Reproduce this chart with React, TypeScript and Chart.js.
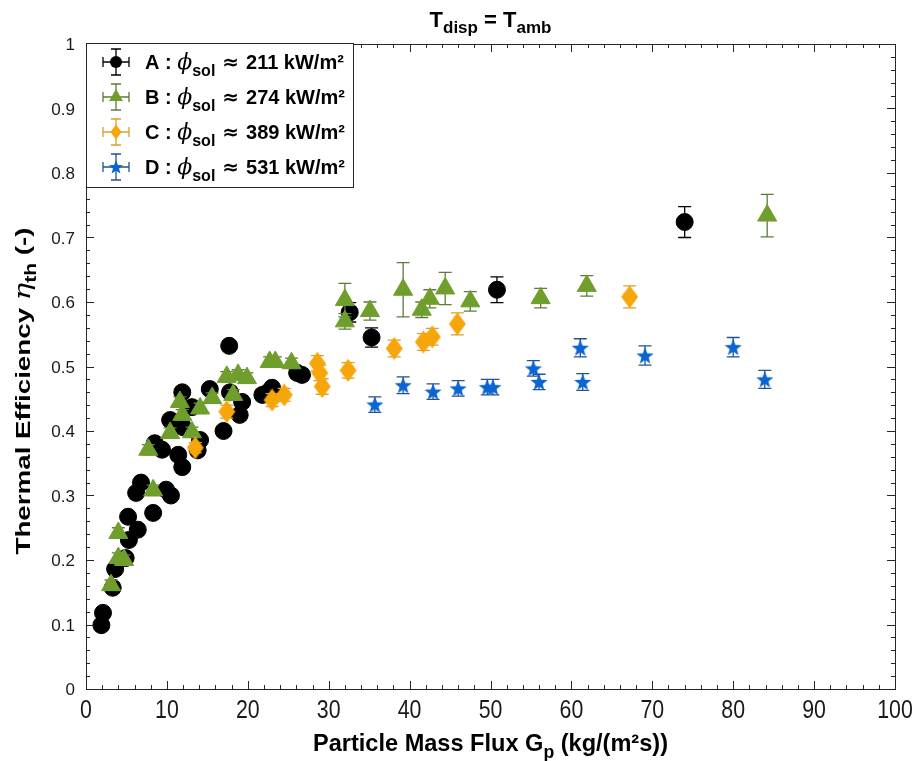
import React, { useEffect, useRef } from "react";
import { Chart, registerables } from "chart.js";

Chart.register(...registerables);

// Axis ticks
const xTickValues = [0, 10, 20, 30, 40, 50, 60, 70, 80, 90, 100];
const yTickValues = [0, 0.1, 0.2, 0.3, 0.4, 0.5, 0.6, 0.7, 0.8, 0.9, 1];
const yTickLabels = ["0", "0.1", "0.2", "0.3", "0.4", "0.5", "0.6", "0.7", "0.8", "0.9", "1"];

// Run A: phi_sol ≈ 211 kW/m²
const aFlux = [1.9, 2.1, 3.3, 3.6, 4.9, 5.3, 6.4, 5.2, 8.3, 6.2, 6.8, 9.9, 10.5, 8.5, 9.4, 11.4, 11.9, 10.4, 12.0, 11.9, 13.1, 14.1, 13.8, 15.3, 17.0, 17.7, 17.8, 19.3, 19.0, 21.8, 22.5, 23.0, 26.1, 26.7, 32.6, 35.3, 50.8, 74.0];
const aEff = [0.099, 0.118, 0.157, 0.186, 0.203, 0.231, 0.247, 0.267, 0.273, 0.304, 0.32, 0.309, 0.3, 0.381, 0.371, 0.363, 0.344, 0.417, 0.406, 0.46, 0.437, 0.386, 0.37, 0.465, 0.4, 0.532, 0.46, 0.445, 0.425, 0.456, 0.46, 0.467, 0.49, 0.487, 0.584, 0.545, 0.619, 0.724];
const aErr = [0.008, 0.008, 0.008, 0.008, 0.008, 0.008, 0.008, 0.008, 0.008, 0.008, 0.008, 0.008, 0.008, 0.008, 0.008, 0.008, 0.008, 0.008, 0.008, 0.008, 0.008, 0.008, 0.008, 0.008, 0.008, 0.008, 0.008, 0.008, 0.008, 0.008, 0.008, 0.008, 0.008, 0.008, 0.015, 0.015, 0.02, 0.024];

// Run B: phi_sol ≈ 274 kW/m²
const bFlux = [3.1, 4.0, 4.7, 4.0, 7.7, 8.3, 10.4, 11.6, 11.9, 13.1, 14.1, 15.6, 17.4, 18.2, 18.8, 19.9, 22.7, 23.4, 25.4, 32.0, 32.0, 35.1, 39.2, 41.5, 42.5, 44.4, 47.5, 56.2, 61.9, 84.2];
const bEff = [0.161, 0.203, 0.2, 0.242, 0.371, 0.308, 0.397, 0.445, 0.425, 0.398, 0.435, 0.451, 0.484, 0.456, 0.487, 0.482, 0.507, 0.507, 0.505, 0.603, 0.57, 0.586, 0.619, 0.588, 0.605, 0.621, 0.601, 0.606, 0.625, 0.734];
const bErr = [0.008, 0.008, 0.008, 0.008, 0.008, 0.008, 0.008, 0.008, 0.008, 0.008, 0.008, 0.008, 0.008, 0.008, 0.008, 0.008, 0.008, 0.008, 0.008, 0.026, 0.012, 0.014, 0.042, 0.012, 0.014, 0.025, 0.015, 0.015, 0.016, 0.033];

// Run C: phi_sol ≈ 389 kW/m²
const cFlux = [13.5, 17.4, 23.0, 24.5, 28.6, 28.9, 29.2, 32.4, 38.1, 41.7, 42.8, 45.9, 67.2];
const cEff = [0.374, 0.43, 0.448, 0.456, 0.505, 0.49, 0.469, 0.494, 0.528, 0.538, 0.546, 0.566, 0.608];
const cErr = [0.008, 0.01, 0.01, 0.01, 0.012, 0.012, 0.012, 0.012, 0.013, 0.013, 0.013, 0.017, 0.017];

// Run D: phi_sol ≈ 531 kW/m²
const dFlux = [35.7, 39.2, 42.9, 46.0, 49.6, 50.3, 55.3, 56.0, 61.1, 61.4, 69.1, 80.0, 83.9];
const dEff = [0.441, 0.471, 0.461, 0.466, 0.468, 0.468, 0.497, 0.476, 0.529, 0.476, 0.517, 0.53, 0.48];
const dErr = [0.012, 0.013, 0.012, 0.012, 0.012, 0.012, 0.012, 0.012, 0.014, 0.013, 0.015, 0.015, 0.014];

const runLetters = ["A", "B", "C", "D"];
const runPowers = ["211", "274", "389", "531"];

const SANS = "'Liberation Sans', Arial, sans-serif";
const SERIF = "'DejaVu Serif', 'Liberation Serif', serif";
const AXIS = "#262626";

const COLORS = ["#000000", "#6f9e2c", "#f6a60a", "#0a64d2"];
const BAR_COLORS = ["#000000", "#5f7a3c", "#d9a02a", "#24518f"];

type Part = { text: string; font: string; dy?: number };

function starPath(ctx: CanvasRenderingContext2D, cx: number, cy: number, R: number, r: number) {
  ctx.beginPath();
  for (let i = 0; i < 10; i++) {
    const ang = -Math.PI / 2 + (i * Math.PI) / 5;
    const rad = i % 2 === 0 ? R : r;
    const px = cx + Math.cos(ang) * rad;
    const py = cy + Math.sin(ang) * rad;
    if (i === 0) ctx.moveTo(px, py);
    else ctx.lineTo(px, py);
  }
  ctx.closePath();
}

function diamondPath(ctx: CanvasRenderingContext2D, cx: number, cy: number, w: number, h: number) {
  ctx.beginPath();
  ctx.moveTo(cx, cy - h / 2);
  ctx.lineTo(cx + w / 2, cy);
  ctx.lineTo(cx, cy + h / 2);
  ctx.lineTo(cx - w / 2, cy);
  ctx.closePath();
}

function makeDiamond(color: string, w: number, h: number) {
  const c = document.createElement("canvas");
  c.width = w + 2;
  c.height = h + 2;
  const ctx = c.getContext("2d")!;
  diamondPath(ctx, c.width / 2, c.height / 2, w, h);
  ctx.fillStyle = color;
  ctx.fill();
  return c;
}

function makeStar(color: string, R: number, r: number) {
  const size = Math.ceil(R * 2 + 2);
  const c = document.createElement("canvas");
  c.width = size;
  c.height = size;
  const ctx = c.getContext("2d")!;
  starPath(ctx, size / 2, size / 2 + 0.8, R, r);
  ctx.fillStyle = color;
  ctx.fill();
  return c;
}

function partsWidth(ctx: CanvasRenderingContext2D, parts: Part[]) {
  let w = 0;
  for (const p of parts) {
    ctx.font = p.font;
    w += ctx.measureText(p.text).width;
  }
  return w;
}

function drawParts(ctx: CanvasRenderingContext2D, parts: Part[], x: number, y: number) {
  let cx = x;
  for (const p of parts) {
    ctx.font = p.font;
    ctx.fillText(p.text, cx, y + (p.dy || 0));
    cx += ctx.measureText(p.text).width;
  }
}

function drawLegendMarker(ctx: CanvasRenderingContext2D, idx: number, x: number, y: number) {
  ctx.fillStyle = COLORS[idx];
  if (idx === 0) {
    ctx.beginPath();
    ctx.arc(x, y, 6, 0, Math.PI * 2);
    ctx.fill();
  } else if (idx === 1) {
    const r = 8;
    ctx.beginPath();
    ctx.moveTo(x, y - r);
    ctx.lineTo(x + r * 0.866, y + r / 2);
    ctx.lineTo(x - r * 0.866, y + r / 2);
    ctx.closePath();
    ctx.fill();
  } else if (idx === 2) {
    diamondPath(ctx, x, y, 11, 15);
    ctx.fill();
  } else {
    starPath(ctx, x, y + 0.5, 7.5, 3.2);
    ctx.fill();
  }
}

export default function App() {
  const ref = useRef<HTMLCanvasElement>(null);

  useEffect(() => {
    const canvas = ref.current!;
    const diamond = makeDiamond(COLORS[2], 17, 23);
    const star = makeStar(COLORS[3], 9, 3.8);

    const series = [
      { flux: aFlux, eff: aEff, err: aErr, style: "circle" as any, radius: 8.5 },
      { flux: bFlux, eff: bEff, err: bErr, style: "triangle" as any, radius: 11 },
      { flux: cFlux, eff: cEff, err: cErr, style: diamond as any, radius: 9 },
      { flux: dFlux, eff: dEff, err: dErr, style: star as any, radius: 9 },
    ];

    const framePlugin = {
      id: "frame",
      beforeDraw(chart: any) {
        const ctx = chart.ctx as CanvasRenderingContext2D;
        ctx.save();
        ctx.fillStyle = "#ffffff";
        ctx.fillRect(0, 0, chart.width, chart.height);
        ctx.restore();
      },
      beforeDatasetDraw(chart: any, args: any) {
        const i = args.index;
        const s = series[i];
        const xs = chart.scales.x;
        const ys = chart.scales.y;
        const ctx = chart.ctx as CanvasRenderingContext2D;
        ctx.save();
        ctx.strokeStyle = BAR_COLORS[i];
        ctx.lineWidth = 1.3;
        ctx.beginPath();
        for (let j = 0; j < s.flux.length; j++) {
          const px = xs.getPixelForValue(s.flux[j]);
          const top = ys.getPixelForValue(s.eff[j] + s.err[j]);
          const bot = ys.getPixelForValue(s.eff[j] - s.err[j]);
          ctx.moveTo(px, top);
          ctx.lineTo(px, bot);
          ctx.moveTo(px - 6.5, top);
          ctx.lineTo(px + 6.5, top);
          ctx.moveTo(px - 6.5, bot);
          ctx.lineTo(px + 6.5, bot);
        }
        ctx.stroke();
        ctx.restore();
      },
      afterDraw(chart: any) {
        const ctx = chart.ctx as CanvasRenderingContext2D;
        const area = chart.chartArea;
        const xs = chart.scales.x;
        const ys = chart.scales.y;
        ctx.save();

        // Axes box
        ctx.strokeStyle = AXIS;
        ctx.lineWidth = 1;
        ctx.strokeRect(area.left + 0.5, area.top + 0.5, area.right - area.left, area.bottom - area.top);

        // Inward ticks on all four sides
        ctx.beginPath();
        for (let v = 0; v <= 100; v += 2) {
          const px = Math.round(xs.getPixelForValue(v)) + 0.5;
          const len = v % 10 === 0 ? 8 : 4;
          ctx.moveTo(px, area.bottom);
          ctx.lineTo(px, area.bottom - len);
          ctx.moveTo(px, area.top);
          ctx.lineTo(px, area.top + len);
        }
        for (let k = 0; k <= 50; k++) {
          const py = Math.round(ys.getPixelForValue(k * 0.02)) + 0.5;
          const len = k % 5 === 0 ? 8 : 4;
          ctx.moveTo(area.left, py);
          ctx.lineTo(area.left + len, py);
          ctx.moveTo(area.right, py);
          ctx.lineTo(area.right - len, py);
        }
        ctx.stroke();

        // Tick labels
        ctx.fillStyle = "#1a1a1a";
        ctx.textAlign = "right";
        ctx.textBaseline = "alphabetic";
        ctx.font = `17px ${SANS}`;
        yTickValues.forEach((v, i) => {
          ctx.fillText(yTickLabels[i], area.left - 11, ys.getPixelForValue(v) + 6);
        });
        ctx.textAlign = "center";
        ctx.font = `26px ${SANS}`;
        xTickValues.forEach((v) => {
          ctx.save();
          ctx.translate(xs.getPixelForValue(v), area.bottom + 29);
          ctx.scale(0.82, 1);
          ctx.fillText(String(v), 0, 0);
          ctx.restore();
        });

        // Title
        ctx.textAlign = "left";
        ctx.fillStyle = "#000000";
        const titleParts: Part[] = [
          { text: "T", font: `bold 22px ${SANS}` },
          { text: "disp", font: `bold 17px ${SANS}`, dy: 6 },
          { text: " = T", font: `bold 22px ${SANS}` },
          { text: "amb", font: `bold 17px ${SANS}`, dy: 6 },
        ];
        const tw = partsWidth(ctx, titleParts);
        drawParts(ctx, titleParts, (area.left + area.right) / 2 - tw / 2, 27);

        // X axis title
        const xParts: Part[] = [
          { text: "Particle Mass Flux G", font: `bold 24px ${SANS}` },
          { text: "p", font: `bold 18px ${SANS}`, dy: 7 },
          { text: " (kg/(m\u00b2s))", font: `bold 24px ${SANS}` },
        ];
        const xw = partsWidth(ctx, xParts);
        const xTarget = 355;
        ctx.save();
        ctx.translate((area.left + area.right) / 2 - xTarget / 2, 751);
        ctx.scale(xTarget / xw, 1);
        drawParts(ctx, xParts, 0, 0);
        ctx.restore();

        // Y axis title
        const yParts: Part[] = [
          { text: "Thermal Efficiency ", font: `bold 21px ${SANS}` },
          { text: "\u03b7", font: `italic 22px ${SERIF}` },
          { text: "th", font: `bold 16px ${SANS}`, dy: 6 },
          { text: " (-)", font: `bold 21px ${SANS}` },
        ];
        const yw = partsWidth(ctx, yParts);
        const yTarget = 327;
        ctx.save();
        ctx.translate(30, 391);
        ctx.rotate(-Math.PI / 2);
        ctx.scale(yTarget / yw, 1);
        drawParts(ctx, yParts, -yw / 2, 0);
        ctx.restore();

        // Legend
        const lx = area.left;
        const ly = area.top - 1;
        const lw = 267;
        const lh = 144;
        ctx.fillStyle = "#ffffff";
        ctx.fillRect(lx, ly, lw, lh);
        ctx.strokeStyle = AXIS;
        ctx.lineWidth = 1;
        ctx.strokeRect(lx + 0.5, ly + 0.5, lw, lh);
        for (let i = 0; i < 4; i++) {
          const cy = ly + 19 + i * 35;
          const cx = lx + 30;
          ctx.strokeStyle = BAR_COLORS[i];
          ctx.lineWidth = 1.3;
          ctx.beginPath();
          ctx.moveTo(cx, cy - 13);
          ctx.lineTo(cx, cy + 13);
          ctx.moveTo(cx - 5, cy - 13);
          ctx.lineTo(cx + 5, cy - 13);
          ctx.moveTo(cx - 5, cy + 13);
          ctx.lineTo(cx + 5, cy + 13);
          ctx.moveTo(cx - 13, cy);
          ctx.lineTo(cx + 13, cy);
          ctx.moveTo(cx - 13, cy - 5);
          ctx.lineTo(cx - 13, cy + 5);
          ctx.moveTo(cx + 13, cy - 5);
          ctx.lineTo(cx + 13, cy + 5);
          ctx.stroke();
          drawLegendMarker(ctx, i, cx, cy);
          ctx.fillStyle = "#000000";
          const parts: Part[] = [
            { text: `${runLetters[i]} : `, font: `bold 20px ${SANS}` },
            { text: "\u03d5", font: `italic 22px ${SERIF}` },
            { text: "sol", font: `bold 16px ${SANS}`, dy: 7 },
            { text: " \u2248 ", font: `bold 20px 'DejaVu Sans', ${SANS}` },
            { text: `${runPowers[i]} kW/m\u00b2`, font: `bold 20px ${SANS}` },
          ];
          drawParts(ctx, parts, lx + 59, cy + 7);
        }

        ctx.restore();
      },
    };

    const chart = new Chart(canvas, {
      type: "scatter",
      data: {
        datasets: series.map((s, i) => ({
          label: runLetters[i],
          data: s.flux.map((x, j) => ({ x, y: s.eff[j] })),
          pointStyle: s.style,
          pointRadius: s.radius,
          pointBackgroundColor: COLORS[i],
          pointBorderColor: COLORS[i],
          pointBorderWidth: 1,
          showLine: false,
          order: 4 - i,
        })),
      },
      options: {
        responsive: false,
        animation: false,
        devicePixelRatio: 1,
        events: [],
        layout: { padding: { left: 86, right: 20, top: 44, bottom: 72 } },
        scales: {
          x: { type: "linear", min: 0, max: 100, display: false },
          y: { type: "linear", min: 0, max: 1, display: false },
        },
        plugins: {
          legend: { display: false },
          tooltip: { enabled: false },
          title: { display: false },
        },
      },
      plugins: [framePlugin],
    });

    return () => chart.destroy();
  }, []);

  return (
    <div style={{ position: "absolute", left: 0, top: 0, width: 915, height: 761, background: "#ffffff" }}>
      <canvas ref={ref} width={915} height={761} style={{ display: "block" }} />
    </div>
  );
}
